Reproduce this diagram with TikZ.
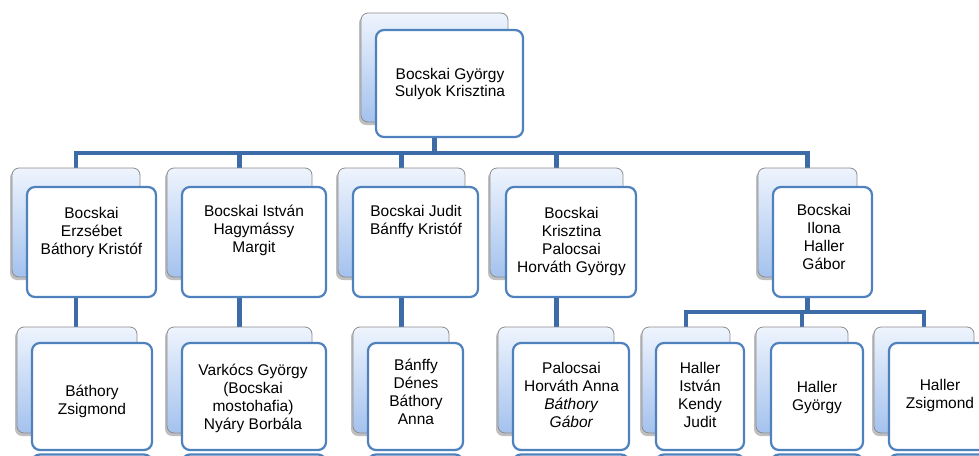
\documentclass[tikz,border=0pt]{standalone}
\usepackage{fontspec}
\setmainfont{Liberation Sans}
\usetikzlibrary{shadows,backgrounds}
\definecolor{cconn}{HTML}{3D6BA8}
\definecolor{fline}{HTML}{4F81BD}
\definecolor{bline}{HTML}{8C8C8C}
\definecolor{btop}{HTML}{EEF4FD}
\definecolor{bbot}{HTML}{A4C2EE}
\begin{document}
\begin{tikzpicture}[x=1pt,y=-1pt,
  connector/.style={draw=cconn, line width=4.5pt},
  backbox/.style={draw=bline, line width=0.8pt, rounded corners=7pt, top color=btop, bottom color=bbot,
    drop shadow={shadow xshift=-2pt, shadow yshift=-3pt, opacity=0.25, fill=black},
    inner sep=0pt, outer sep=0pt, anchor=north west},
  frontbox/.style={draw=fline, line width=2.2pt, rounded corners=8pt, fill=white,
    inner sep=0pt, outer sep=0pt, anchor=north west},
  frontpath/.style={draw=fline, line width=2.2pt, rounded corners=8pt, fill=white},
  txt/.style={font=\fontsize{15.5}{18}\selectfont, align=center, inner sep=0pt},
]
\useasboundingbox (0,0) rectangle (979,455);
\clip (0,0) rectangle (979,455);

% named anchors for the bus lines
\coordinate (bus1) at (0,153);
\coordinate (bus2) at (0,312);

% back boxes
\node[backbox, minimum width=147pt, minimum height=109pt] (topb) at (361,13) {};
\node[backbox, minimum width=128pt, minimum height=109pt] (ab) at (12,168) {};
\node[backbox, minimum width=145pt, minimum height=109pt] (bb) at (167,168) {};
\node[backbox, minimum width=127pt, minimum height=109pt] (cb) at (338,168) {};
\node[backbox, minimum width=133pt, minimum height=109pt] (db) at (490,168) {};
\node[backbox, minimum width=99pt, minimum height=109pt] (eb) at (758,168) {};
\node[backbox, minimum width=120pt, minimum height=106pt] (fb) at (17,327) {};
\node[backbox, minimum width=145pt, minimum height=106pt] (gb) at (167,327) {};
\node[backbox, minimum width=96pt, minimum height=106pt] (hb) at (353,327) {};
\node[backbox, minimum width=116pt, minimum height=106pt] (ib) at (498,327) {};
\node[backbox, minimum width=88pt, minimum height=106pt] (jb) at (642,327) {};
\node[backbox, minimum width=92pt, minimum height=106pt] (kb) at (756,327) {};
\node[backbox, minimum width=100pt, minimum height=106pt] (lb) at (874,327) {};

% front boxes
\node[frontbox, minimum width=147pt, minimum height=107pt] (topf) at (376,30) {};
\node[frontbox, minimum width=129pt, minimum height=110pt] (af) at (27,187) {};
\node[frontbox, minimum width=144pt, minimum height=110pt] (bf) at (182,187) {};
\node[frontbox, minimum width=125pt, minimum height=110pt] (cf) at (353,187) {};
\node[frontbox, minimum width=130pt, minimum height=110pt] (df) at (506,187) {};
\node[frontbox, minimum width=99pt, minimum height=110pt] (ef) at (773,187) {};
\node[frontbox, minimum width=120pt, minimum height=107pt] (ff) at (32,343) {};
\node[frontbox, minimum width=144pt, minimum height=107pt] (gf) at (182,343) {};
\node[frontbox, minimum width=95pt, minimum height=107pt] (hf) at (368,343) {};
\node[frontbox, minimum width=116pt, minimum height=107pt] (if) at (513,343) {};
\node[frontbox, minimum width=88pt, minimum height=107pt] (jf) at (656,343) {};
\node[frontbox, minimum width=92pt, minimum height=107pt] (kf) at (771,343) {};
\node[frontbox, minimum width=100pt, minimum height=107pt] (lf) at (889,343) {};

% cut-off tops of further boxes at the bottom edge
\foreach \xa/\w in {32/120,182/144,368/95,513/116,656/88,771/92,889/100}{
  \path[frontpath] (\xa,454.5) rectangle ++(\w,40);
}

% connectors, behind all boxes
\begin{scope}[on background layer]
  \foreach \c in {ab,bb,cb,db,eb}{
    \draw[connector] (topb.center) -- (topb.center |- bus1) -| (\c.north);
  }
  \draw[connector] (ab.center) -- (ab.center |- fb.north);
  \draw[connector] (bb.center) -- (bb.center |- gb.north);
  \draw[connector] (cb.center) -- (cb.center |- hb.north);
  \draw[connector] (db.center) -- (db.center |- ib.north);
  \foreach \c in {jb,kb,lb}{
    \draw[connector] (eb.center) -- (eb.center |- bus2) -| (\c.north);
  }
\end{scope}

% texts
\node[txt, font=\fontsize{15.5}{17}\selectfont] (topt) at (450,83.5) {Bocskai György\\Sulyok Krisztina};
\node[txt] (at) at (91.5,232) {Bocskai\\Erzsébet\\Báthory Kristóf};
\node[txt] (bt) at (254,230) {Bocskai István\\Hagymássy\\Margit};
\node[txt] (ct) at (416,221) {Bocskai Judit\\Bánffy Kristóf};
\node[txt] (dt) at (571.5,241) {Bocskai\\Krisztina\\Palocsai\\Horváth György};
\node[txt] (et) at (824,237) {Bocskai\\Ilona\\Haller\\Gábor};
\node[txt] (ft) at (92,401) {Báthory\\Zsigmond};
\node[txt] (gt) at (253,398) {Varkócs György\\(Bocskai\\mostohafia)\\Nyáry Borbála};
\node[txt] (ht) at (416,392) {Bánffy\\Dénes\\Báthory\\Anna};
\node[txt] (it) at (571.5,395) {Palocsai\\Horváth Anna\\\textit{Báthory}\\\textit{Gábor}};
\node[txt] (jt) at (700,395) {Haller\\István\\Kendy\\Judit};
\node[txt] (kt) at (817,397) {Haller\\György};
\node[txt] (lt) at (940,395) {Haller\\Zsigmond};
\end{tikzpicture}
\end{document}
